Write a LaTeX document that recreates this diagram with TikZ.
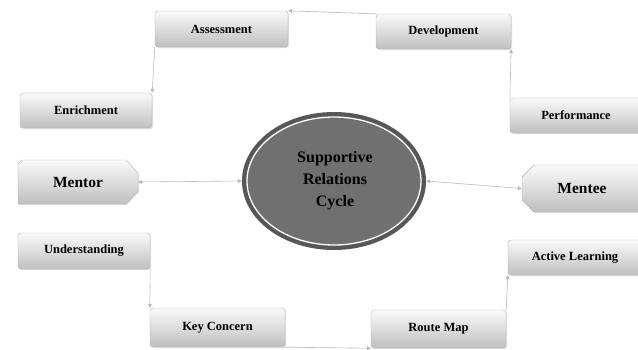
\documentclass[tikz,border=0pt]{standalone}
\usepackage{fontspec}
\setmainfont{Liberation Serif}
\usetikzlibrary{shapes.geometric,shadows,arrows.meta,calc}
\begin{document}
\begin{tikzpicture}[x=1pt,y=-1pt,
  conn/.style={draw=gray!55, line width=0.6pt, -{Triangle[length=4pt,width=4pt]}},
  bconn/.style={draw=gray!55, line width=0.6pt, {Triangle[length=4pt,width=4pt]}-{Triangle[length=4pt,width=4pt]}},
  boxst/.style={rectangle, rounded corners=3pt, draw=gray!60, line width=0.4pt,
    top color=gray!4, bottom color=gray!50,
    drop shadow={opacity=0.25, shadow xshift=1pt, shadow yshift=-1pt},
    font=\fontsize{12.5}{14}\selectfont\bfseries, inner sep=0pt},
  bigtxt/.style={font=\fontsize{15.5}{17}\selectfont\bfseries, inner sep=0pt}
]
\useasboundingbox (0,0) rectangle (638,349);

% rectangular boxes
\node[boxst, minimum width=133pt, minimum height=36pt] (assess) at (221.5,29) {Assessment};
\node[boxst, minimum width=135pt, minimum height=35pt] (devel) at (443.5,31.5) {Development};
\node[boxst, minimum width=132pt, minimum height=35pt] (perf) at (576,115.5) {Performance};
\node[boxst, minimum width=132pt, minimum height=35pt] (enrich) at (86,110.5) {Enrichment};
\node[boxst, minimum width=132pt, minimum height=36pt] (under) at (84,251) {Understanding};
\node[boxst, minimum width=135pt, minimum height=39pt] (keyc) at (217.5,327.5) {Key Concern};
\node[boxst, minimum width=135pt, minimum height=38pt] (route) at (438.5,329) {Route Map};
\node[boxst, minimum width=134pt, minimum height=35pt] (active) at (575,257.5) {Active Learning};

% Mentor (chamfered)
\path[draw=gray!60, line width=0.4pt, top color=gray!4, bottom color=gray!50,
  drop shadow={opacity=0.25, shadow xshift=1pt, shadow yshift=-1pt}]
  (22,160) -- (126,160) -- (138,173) -- (138,191) -- (126,204) -- (18,204) -- (18,164) -- cycle;
\node[bigtxt, minimum width=120pt, minimum height=44pt] (mentor) at (78,182) {Mentor};

% Mentee (chamfered)
\path[draw=gray!60, line width=0.4pt, top color=gray!4, bottom color=gray!50,
  drop shadow={opacity=0.25, shadow xshift=1pt, shadow yshift=-1pt}]
  (534,165) -- (645,165) -- (645,212) -- (534,212) -- (522,200) -- (522,177) -- cycle;
\node[bigtxt, minimum width=120pt, minimum height=47pt] (mentee) at (582,188.5) {Mentee};

% central ellipse
\node[ellipse, fill=black!66, minimum width=184pt, minimum height=138pt, inner sep=0pt] (cyc) at (334,181) {};
\node[ellipse, draw=white, line width=1.3pt, fill=black!56, minimum width=174pt, minimum height=128pt, inner sep=0pt] at (334,181) {};
\node[bigtxt, align=center, font=\fontsize{16}{22}\selectfont\bfseries] at (335,181) {Supportive\\Relations\\Cycle};

% connectors
\draw[conn] (devel.north west) -- (assess.north east);
\draw[conn] (assess.south west) -- (enrich.north east);
\draw[conn] (perf.north west) -- (devel.south east);
\draw[bconn] (mentor.east) -- (cyc.west);
\draw[bconn] (cyc.east) -- (mentee.west);
\draw[conn] (under.south east) -- (keyc.north west);
\draw[conn] (keyc.south east) -- (route.south west);
\draw[conn] (route.north east) -- (active.south west);
\end{tikzpicture}
\end{document}
